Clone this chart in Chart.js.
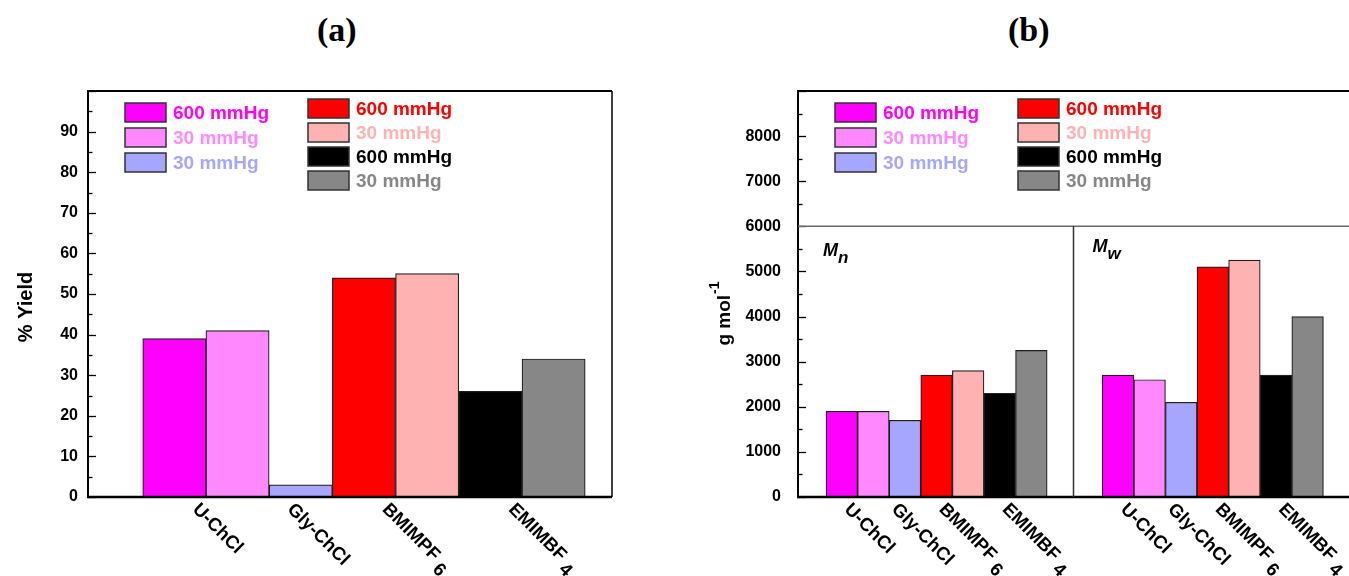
<!DOCTYPE html>
<html><head><meta charset="utf-8">
<script src="https://cdn.jsdelivr.net/npm/chart.js@4.4.0/dist/chart.umd.min.js"></script>
<style>
html,body{margin:0;padding:0;background:#fff;width:1349px;height:576px;overflow:hidden;position:relative;}
#ca{position:absolute;left:0;top:0;}
#cb{position:absolute;left:680px;top:0;}
.ttl{position:absolute;top:10px;font:bold 34px "Liberation Serif","Times New Roman",serif;color:#000;line-height:40px;white-space:nowrap;}
</style></head><body>
<div class="ttl" style="left:317px">(a)</div>
<div class="ttl" style="left:1008px">(b)</div>
<canvas id="ca" width="680" height="576"></canvas>
<canvas id="cb" width="669" height="576"></canvas>
<script>
// ---------------- data ----------------
const seriesLabels = ['600 mmHg', '30 mmHg', '30 mmHg', '600 mmHg', '30 mmHg', '600 mmHg', '30 mmHg'];
const compounds = ['U-ChCl', 'Gly-ChCl', 'BMIMPF6', 'EMIMBF4'];
const seriesCompound = [0, 0, 1, 2, 2, 3, 3];
const yieldValues = [39, 41, 3, 54, 55, 26, 34];
const mnValues = [1900, 1900, 1700, 2700, 2800, 2300, 3250];
const mwValues = [2700, 2600, 2100, 5100, 5250, 2700, 4000];
const groupLabels = [['M', 'n'], ['M', 'w']];
const yieldTicks = [0, 10, 20, 30, 40, 50, 60, 70, 80, 90];
const massTicks = [0, 1000, 2000, 3000, 4000, 5000, 6000, 7000, 8000];
const yieldTitle = '% Yield';
const massTitle = ['g mol', '-1'];

// ---------------- styles / layout ----------------
const FONT = '"Liberation Sans", Arial, sans-serif';
const fills = ['#ff00ff', '#ff88ff', '#a6a6ff', '#ff0000', '#ffb2b2', '#000000', '#878787'];
Chart.defaults.font.family = FONT;
Chart.defaults.color = '#000';

function makeDeco(cfg) {
  return {
    id: 'deco',
    afterDatasetsDraw(chart) {
      const {ctx, chartArea: a, scales: {x, y}} = chart;
      ctx.save();
      // inward y ticks (major at scale ticks, minor between)
      ctx.strokeStyle = '#000';
      ctx.lineWidth = 1.3;
      const tv = y.ticks.map(t => t.value);
      for (let i = 0; i < tv.length; i++) {
        const vals = [[tv[i], 8]];
        if (i < tv.length - 1) vals.push([(tv[i] + tv[i + 1]) / 2, 4.5]);
        for (const [v, len] of vals) {
          const py = Math.round(y.getPixelForValue(v)) + 0.5;
          ctx.beginPath(); ctx.moveTo(a.left, py); ctx.lineTo(a.left + len, py); ctx.stroke();
        }
      }
      // frame
      ctx.strokeStyle = '#000';
      ctx.lineWidth = 2;
      ctx.beginPath(); ctx.moveTo(a.left - 1, a.top); ctx.lineTo(a.right, a.top); ctx.stroke();
      ctx.lineWidth = 2.5;
      ctx.beginPath(); ctx.moveTo(a.left - 1, a.bottom); ctx.lineTo(a.right, a.bottom); ctx.stroke();
      if (cfg.rightBorder) {
        ctx.lineWidth = 1.5;
        ctx.beginPath(); ctx.moveTo(a.right, a.top); ctx.lineTo(a.right, a.bottom); ctx.stroke();
      }
      // group separators (b)
      if (cfg.sepValue !== undefined) {
        const sy = y.getPixelForValue(cfg.sepValue);
        ctx.strokeStyle = '#6a6a6a'; ctx.lineWidth = 1.5;
        ctx.beginPath(); ctx.moveTo(a.left, sy); ctx.lineTo(a.right, sy); ctx.stroke();
        const dx = x.getPixelForValue(cfg.divider);
        ctx.strokeStyle = '#333'; ctx.lineWidth = 1.5;
        ctx.beginPath(); ctx.moveTo(dx, sy); ctx.lineTo(dx, a.bottom); ctx.stroke();
        // M_n, M_w
        const gx = [a.left + 25, dx + 19];
        const gy = [sy + 30, sy + 26];
        groupLabels.forEach((g, k) => {
          ctx.fillStyle = '#000';
          ctx.textAlign = 'left'; ctx.textBaseline = 'alphabetic';
          ctx.font = 'italic bold 18px ' + FONT;
          ctx.fillText(g[0], gx[k], gy[k]);
          const w = ctx.measureText(g[0]).width;
          ctx.font = 'italic bold 17px ' + FONT;
          ctx.fillText(g[1], gx[k] + w, gy[k] + 7);
        });
      }
      // legend
      const ds = chart.data.datasets;
      cfg.legendCols.forEach((col, c) => {
        col.forEach((di, r) => {
          const bx = a.left + cfg.legendX[c];
          const by = a.top + cfg.legendY[c] + r * cfg.legendDY[c];
          ctx.fillStyle = ds[di].backgroundColor;
          ctx.fillRect(bx, by, 41, 19);
          ctx.strokeStyle = '#333'; ctx.lineWidth = 1.5;
          ctx.strokeRect(bx, by, 41, 19);
          ctx.font = 'bold 19px ' + FONT;
          ctx.textAlign = 'left'; ctx.textBaseline = 'middle';
          ctx.fillStyle = ds[di].backgroundColor;
          ctx.fillText(ds[di].label, bx + 48, by + 10.5);
        });
      });
      // category labels (rotated 45 deg clockwise)
      ctx.fillStyle = '#000';
      for (let g = 0; g < cfg.nGroups; g++) {
        compounds.forEach((name, c) => {
          const xs = [];
          seriesCompound.forEach((sc, i) => {
            if (sc === c) xs.push(chart.getDatasetMeta(i).data[g].x);
          });
          const cx = xs.reduce((s, v) => s + v, 0) / xs.length - 4;
          const cy = a.bottom + 3;
          ctx.save();
          ctx.translate(cx, cy);
          ctx.rotate(Math.PI / 4);
          ctx.font = 'bold 18.5px ' + FONT;
          ctx.textAlign = 'left'; ctx.textBaseline = 'top';
          const m = name.match(/^(.*?)(\d+)$/);
          if (m) {
            ctx.fillText(m[1], 0, 0);
            const w = ctx.measureText(m[1] + ' ').width;
            ctx.fillText(m[2], w, 7);
          } else {
            ctx.fillText(name, 0, 0);
          }
          ctx.restore();
        });
      }
      // y-axis title
      ctx.save();
      ctx.translate(cfg.titleX, cfg.titleY);
      ctx.rotate(-Math.PI / 2);
      ctx.fillStyle = '#000';
      ctx.textBaseline = 'middle';
      if (Array.isArray(cfg.title)) {
        ctx.font = 'bold 19px ' + FONT;
        const w1 = ctx.measureText(cfg.title[0]).width;
        ctx.font = 'bold 14px ' + FONT;
        const w2 = ctx.measureText(cfg.title[1]).width;
        const start = -(w1 + w2) / 2;
        ctx.textAlign = 'left';
        ctx.font = 'bold 19px ' + FONT;
        ctx.fillText(cfg.title[0], start, 0);
        ctx.font = 'bold 14px ' + FONT;
        ctx.fillText(cfg.title[1], start + w1 + 1, -10);
      } else {
        ctx.font = 'bold 20px ' + FONT;
        ctx.textAlign = 'center';
        ctx.fillText(cfg.title, 0, 0);
      }
      ctx.restore();
      ctx.restore();
    }
  };
}

function barDatasets(valueSets, starts) {
  return seriesLabels.map((lab, i) => ({
    label: lab,
    data: valueSets.map((vals, g) => ({x: starts[g] + i, y: vals[i]})),
    backgroundColor: fills[i],
    borderColor: '#1e1e1e',
    borderWidth: 1.2,
    grouped: false,
    categoryPercentage: 1,
    barPercentage: 1
  }));
}

function yScale(max, step, tickList, pad, width) {
  return {
    min: 0, max: max,
    ticks: {
      stepSize: step, padding: pad, color: '#000',
      font: {family: FONT, weight: 'bold', size: 16},
      callback: v => tickList.includes(v) ? String(v) : ''
    },
    grid: {display: false, drawTicks: false},
    border: {display: true, color: '#000', width: 2},
    afterFit(s) { s.width = width; }
  };
}

function xScale(max) {
  return {type: 'linear', display: false, offset: false, min: 0, max: max,
          grid: {offset: false}, ticks: {stepSize: 1, includeBounds: false}};
}

const commonOpts = {
  responsive: false,
  animation: false,
  plugins: {legend: {display: false}, tooltip: {enabled: false}}
};

// (a)
new Chart(document.getElementById('ca'), {
  type: 'bar',
  data: {datasets: barDatasets([yieldValues], [1.366])},
  options: Object.assign({}, commonOpts, {
    layout: {padding: {left: 0, top: 91, right: 68, bottom: 79}},
    scales: {x: xScale(8.29), y: yScale(100, 10, yieldTicks, 10, 88)}
  }),
  plugins: [makeDeco({
    rightBorder: true, nGroups: 1,
    legendCols: [[0, 1, 2], [3, 4, 5, 6]], legendX: [37, 220], legendY: [12, 8], legendDY: [25, 24],
    title: yieldTitle, titleX: 26, titleY: 307
  })]
});

// (b)
new Chart(document.getElementById('cb'), {
  type: 'bar',
  data: {datasets: barDatasets([mnValues, mwValues], [1.386, 10.13])},
  options: Object.assign({}, commonOpts, {
    layout: {padding: {left: 0, top: 91, right: 0, bottom: 79}},
    scales: {x: xScale(17.44), y: yScale(9000, 1000, massTicks, 17, 118)}
  }),
  plugins: [makeDeco({
    rightBorder: false, nGroups: 2, sepValue: 6000, divider: 8.72,
    legendCols: [[0, 1, 2], [3, 4, 5, 6]], legendX: [37, 220], legendY: [12, 8], legendDY: [25, 24],
    title: massTitle, titleX: 45, titleY: 314
  })]
});
</script>
</body></html>
